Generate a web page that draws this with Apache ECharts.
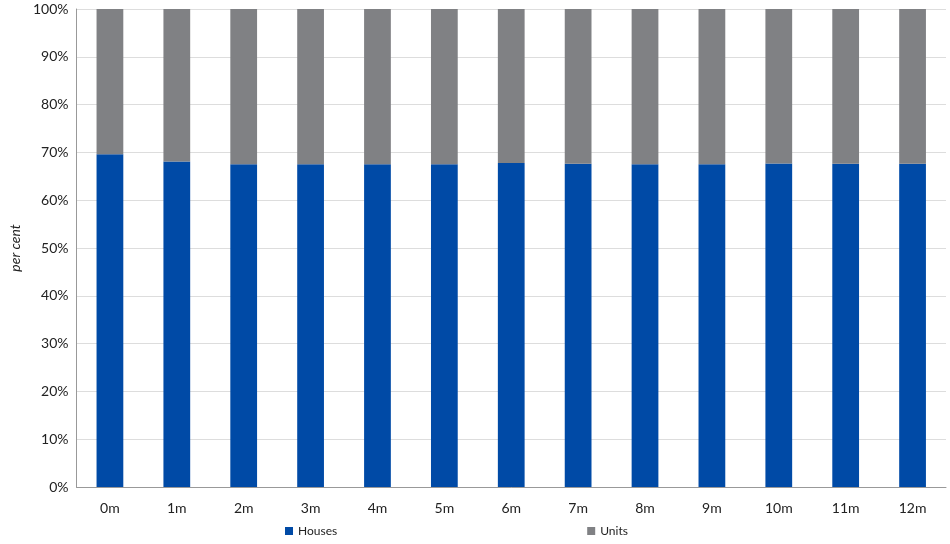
<!DOCTYPE html>
<html>
<head>
<meta charset="utf-8"/>
<script src="https://cdn.jsdelivr.net/npm/echarts@6/dist/echarts.min.js"></script>
<style>body{margin:0}#c{width:950px;height:544px}</style>
</head>
<body>
<div id="c"></div>
<script>
var categories = ['0m','1m','2m','3m','4m','5m','6m','7m','8m','9m','10m','11m','12m'];
var houses = [69.6, 68.1, 67.5, 67.5, 67.5, 67.5, 67.8, 67.6, 67.5, 67.5, 67.7, 67.6, 67.6];
var units = houses.map(function (v) { return +(100 - v).toFixed(1); });

var chart = echarts.init(document.getElementById('c'));
var font = 'Lato, "Open Sans", sans-serif';
chart.setOption({
    animation: false,
    textStyle: {fontFamily: font},
    grid: {left: 68, right: 4, top: 9, bottom: 57},
    legend: {
        bottom: 2, left: 280, itemGap: 250,
        itemWidth: 8, itemHeight: 8, icon: 'rect',
        textStyle: {fontSize: 12, color: '#222'},
        data: ['Houses', 'Units']
    },
    xAxis: {
        type: 'category', data: categories,
        axisLine: {lineStyle: {color: '#999'}},
        axisTick: {lineStyle: {color: '#999'}, length: 6},
        axisLabel: {color: '#222', fontSize: 14, margin: 14}
    },
    yAxis: {
        type: 'value', min: 0, max: 100, interval: 10,
        name: 'per cent', nameLocation: 'middle', nameGap: 54,
        nameTextStyle: {fontStyle: 'italic', fontSize: 14, color: '#222'},
        axisLine: {show: true, lineStyle: {color: '#999'}},
        axisLabel: {formatter: '{value}%', color: '#222', fontSize: 14},
        splitLine: {lineStyle: {color: '#ddd'}}
    },
    series: [
        {name: 'Houses', type: 'bar', stack: 's', data: houses, barWidth: '40%', itemStyle: {color: '#004aa6'}},
        {name: 'Units', type: 'bar', stack: 's', data: units, barWidth: '40%', itemStyle: {color: '#808184'}}
    ]
});
</script>
</body>
</html>
